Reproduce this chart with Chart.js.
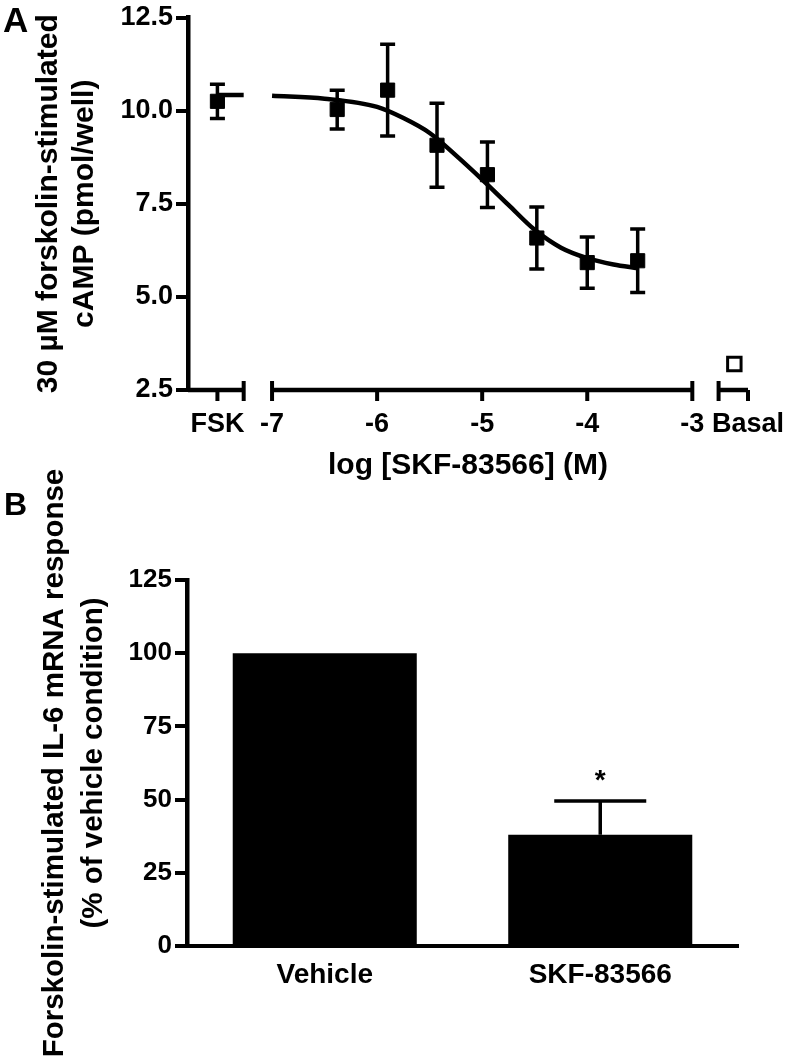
<!DOCTYPE html>
<html><head><meta charset="utf-8">
<script src="https://cdn.jsdelivr.net/npm/chart.js@4.4.1/dist/chart.umd.min.js"></script>
<style>
html,body{margin:0;padding:0;background:#fff;}
body{width:786px;height:1062px;position:relative;overflow:hidden;font-family:'Liberation Sans',Arial,sans-serif;}
.panel-letter{position:absolute;font-weight:bold;line-height:1;color:#000;font-family:'Liberation Sans',Arial,sans-serif;}
#wrapA{position:absolute;left:0;top:0;width:786px;height:500px;}
#wrapB{position:absolute;left:0;top:440px;width:786px;height:622px;}
</style></head><body>
<div id="wrapA"><canvas id="chartA" width="786" height="500"></canvas></div>
<div id="wrapB"><canvas id="chartB" width="786" height="622"></canvas></div>
<div class="panel-letter" style="left:3px;top:2px;font-size:35px;">A</div>
<div class="panel-letter" style="left:4px;top:488px;font-size:32px;">B</div>
<script>
// ---------- Panel A data ----------
const fskX = [-7.52];
const fskMean = [10.25];
const fskErr = [0.46];
const fskPlateauX = [-7.52, -7.27];
const fskPlateauY = [10.42, 10.42];
const doseLogM = [-6.38, -5.90, -5.43, -4.95, -4.48, -4.00, -3.52];
const doseMean = [10.03, 10.55, 9.07, 8.28, 6.58, 5.92, 5.97];
const doseErr = [0.52, 1.23, 1.13, 0.88, 0.83, 0.69, 0.85];
const basalX = [-2.60];
const basalMean = [3.20];
const basalErr = [0.10];
const fitX = [-7.0, -6.5, -6.0, -5.75, -5.5, -5.25, -5.0, -4.75, -4.5, -4.25, -4.0, -3.75, -3.52];
const fitY = [10.40, 10.32, 10.10, 9.80, 9.40, 8.80, 8.15, 7.47, 6.80, 6.32, 6.04, 5.87, 5.77];
const xTickValues = [-7.52, -7, -6, -5, -4, -3, -2.47];
const xTickLabels = ['FSK', '-7', '-6', '-5', '-4', '-3', 'Basal'];
const yTicksA = [2.5, 5.0, 7.5, 10.0, 12.5];

// ---------- Panel B data ----------
const barLabels = ['Vehicle', 'SKF-83566'];
const barMeans = [100, 38];
const barErrs = [0, 11.5];
const barSig = ['', '*'];
const yTicksB = [0, 25, 50, 75, 100, 125];

const FONT = "'Liberation Sans', Arial, sans-serif";
const pts = (xs, ys) => xs.map((x, i) => ({x: x, y: ys[i]}));

// broken x-axis layout (scale units)
const axisA = {
  xMin: -7.80, xMax: -2.47,
  segments: [[-7.80, -7.27], [-7, -3], [-2.75, -2.47]],
  caps: [-7.27, -7, -3, -2.75],
  downTicks: [-7.52, -6, -5, -4, -2.47]
};

const errorBarPlugin = {
  id: 'errbars',
  beforeDatasetsDraw(chart) {
    const ctx = chart.ctx, xs = chart.scales.x, ys = chart.scales.y;
    chart.data.datasets.forEach((ds) => {
      if (!ds.errors) return;
      ctx.save();
      ctx.strokeStyle = '#000';
      ctx.lineWidth = 3.5;
      ds.data.forEach((p, j) => {
        const e = ds.errors[j];
        if (!e) return;
        const px = xs.getPixelForValue(p.x);
        const top = ys.getPixelForValue(p.y + e), bot = ys.getPixelForValue(p.y - e);
        ctx.beginPath();
        ctx.moveTo(px, top); ctx.lineTo(px, bot);
        ctx.moveTo(px - 7.5, top); ctx.lineTo(px + 7.5, top);
        ctx.moveTo(px - 7.5, bot); ctx.lineTo(px + 7.5, bot);
        ctx.stroke();
      });
      ctx.restore();
    });
  }
};

const brokenAxisPlugin = {
  id: 'brokenAxis',
  afterDraw(chart) {
    const ctx = chart.ctx, xs = chart.scales.x;
    const y0 = chart.chartArea.bottom;
    ctx.save();
    ctx.strokeStyle = '#000';
    ctx.lineWidth = 4.5;
    ctx.lineCap = 'butt';
    axisA.segments.forEach(([a, b]) => {
      ctx.beginPath();
      ctx.moveTo(xs.getPixelForValue(a), y0);
      ctx.lineTo(xs.getPixelForValue(b), y0);
      ctx.stroke();
    });
    ctx.lineWidth = 4;
    axisA.caps.forEach(v => {
      const px = xs.getPixelForValue(v);
      ctx.beginPath(); ctx.moveTo(px, y0 - 9); ctx.lineTo(px, y0 + 11); ctx.stroke();
    });
    axisA.downTicks.forEach(v => {
      const px = xs.getPixelForValue(v);
      ctx.beginPath(); ctx.moveTo(px, y0); ctx.lineTo(px, y0 + 11); ctx.stroke();
    });
    ctx.restore();
  }
};

new Chart(document.getElementById('chartA'), {
  type: 'scatter',
  data: {
    datasets: [
      { data: pts(fskPlateauX, fskPlateauY), showLine: true, borderColor: '#000', borderWidth: 4.5, pointRadius: 0 },
      { data: pts(fitX, fitY), showLine: true, borderColor: '#000', borderWidth: 4.5, pointRadius: 0, cubicInterpolationMode: 'monotone' },
      { data: pts(fskX, fskMean), errors: fskErr, pointStyle: 'rect', pointRadius: 10, backgroundColor: '#000', borderColor: '#000', borderWidth: 1 },
      { data: pts(doseLogM, doseMean), errors: doseErr, pointStyle: 'rect', pointRadius: 10, backgroundColor: '#000', borderColor: '#000', borderWidth: 1 },
      { data: pts(basalX, basalMean), errors: basalErr, pointStyle: 'rect', pointRadius: 9.5, backgroundColor: '#fff', borderColor: '#000', borderWidth: 3 }
    ]
  },
  options: {
    responsive: false, animation: false, devicePixelRatio: 1,
    layout: { padding: { top: 17.5, left: 0, right: 38, bottom: 0 } },
    plugins: { legend: { display: false }, tooltip: { enabled: false } },
    scales: {
      x: {
        type: 'linear', min: axisA.xMin, max: axisA.xMax,
        grid: { display: false, drawTicks: false },
        border: { display: false },
        afterBuildTicks: s => { s.ticks = xTickValues.map(v => ({ value: v })); },
        afterFit: s => { s.height = 110; s.paddingLeft = 0; s.paddingRight = 38; },
        ticks: {
          autoSkip: false, maxRotation: 0, padding: 18, color: '#000',
          font: { family: FONT, size: 27, weight: 'bold' },
          callback: (v, i) => xTickLabels[i]
        },
        title: {
          display: true, text: 'log [SKF-83566] (M)', color: '#000',
          font: { family: FONT, size: 30, weight: 'bold', lineHeight: 1.2 },
          padding: { top: 0, bottom: 16 }
        }
      },
      y: {
        min: 2.5, max: 12.5,
        afterBuildTicks: s => { s.ticks = yTicksA.map(v => ({ value: v })); },
        afterFit: s => { s.width = 188; s.paddingTop = 0; s.paddingBottom = 0; },
        grid: { display: true, drawOnChartArea: false, drawTicks: true, tickLength: 12, lineWidth: 4, color: '#000' },
        border: { display: true, width: 4.5, color: '#000' },
        ticks: {
          padding: 3, color: '#000',
          font: { family: FONT, size: 27, weight: 'bold' },
          callback: v => Number(v).toFixed(1)
        },
        title: {
          display: true, text: ['30 \u00B5M forskolin-stimulated', 'cAMP (pmol/well)'], color: '#000',
          font: { family: FONT, size: 30, weight: 'bold', lineHeight: 1.2 },
          padding: { top: 31, bottom: 0 }
        }
      }
    }
  },
  plugins: [errorBarPlugin, brokenAxisPlugin]
});

// ---------- Panel B ----------
const barErrorPlugin = {
  id: 'barErr',
  afterDatasetsDraw(chart) {
    const ctx = chart.ctx, ys = chart.scales.y;
    const meta = chart.getDatasetMeta(0);
    ctx.save();
    ctx.strokeStyle = '#000';
    ctx.fillStyle = '#000';
    ctx.lineWidth = 3.5;
    meta.data.forEach((bar, j) => {
      const e = barErrs[j];
      const px = bar.x;
      if (e) {
        const base = ys.getPixelForValue(barMeans[j]);
        const top = ys.getPixelForValue(barMeans[j] + e);
        const half = bar.width / 4;
        ctx.beginPath();
        ctx.moveTo(px, base); ctx.lineTo(px, top);
        ctx.moveTo(px - half, top); ctx.lineTo(px + half, top);
        ctx.stroke();
      }
      if (barSig[j]) {
        const top = ys.getPixelForValue(barMeans[j] + e);
        ctx.font = 'bold 28px ' + FONT;
        ctx.textAlign = 'center';
        ctx.textBaseline = 'alphabetic';
        ctx.fillText(barSig[j], px, top - 12);
      }
    });
    ctx.restore();
  }
};

new Chart(document.getElementById('chartB'), {
  type: 'bar',
  data: {
    labels: barLabels,
    datasets: [{ data: barMeans, backgroundColor: '#000', borderWidth: 0, barPercentage: 0.668, categoryPercentage: 1.0 }]
  },
  options: {
    responsive: false, animation: false, devicePixelRatio: 1,
    layout: { padding: { top: 140, left: 0, right: 48, bottom: 0 } },
    plugins: { legend: { display: false }, tooltip: { enabled: false } },
    scales: {
      x: {
        grid: { display: false, drawTicks: false },
        border: { display: true, width: 4, color: '#000' },
        afterFit: s => { s.height = 116; s.paddingLeft = 0; s.paddingRight = 0; },
        ticks: { padding: 12, color: '#000', font: { family: FONT, size: 28, weight: 'bold' } }
      },
      y: {
        min: 0, max: 125,
        afterBuildTicks: s => { s.ticks = yTicksB.map(v => ({ value: v })); },
        afterFit: s => { s.width = 187; s.paddingTop = 0; s.paddingBottom = 0; },
        grid: { display: true, drawOnChartArea: false, drawTicks: true, tickLength: 12, lineWidth: 4, color: '#000' },
        border: { display: true, width: 4.5, color: '#000' },
        ticks: { padding: 3, color: '#000', font: { family: FONT, size: 26, weight: 'bold' } },
        title: {
          display: true, text: ['Forskolin-stimulated IL-6 mRNA response', '(% of vehicle condition)'], color: '#000',
          font: { family: FONT, size: 29.5, weight: 'bold', lineHeight: 1.32 },
          padding: { top: 35, bottom: 0 }
        }
      }
    }
  },
  plugins: [barErrorPlugin]
});
</script>
</body></html>
